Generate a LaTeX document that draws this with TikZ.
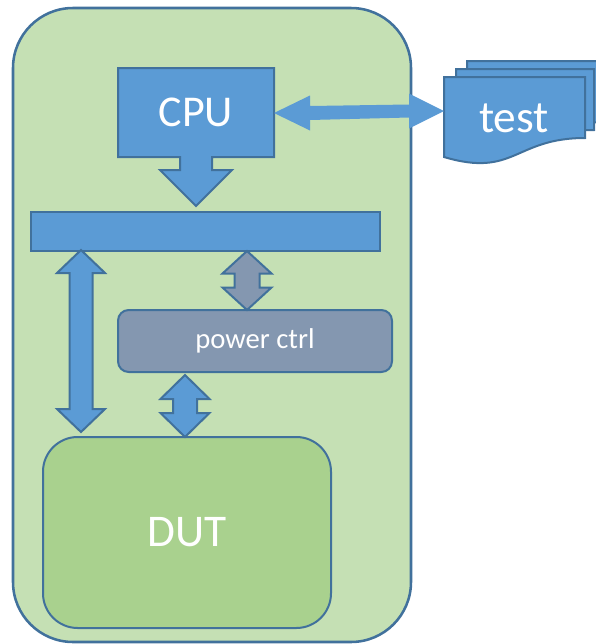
\documentclass[tikz,border=0pt]{standalone}
\usepackage{fontspec}
\setmainfont{Carlito}
\definecolor{blueF}{HTML}{5B9BD5}
\definecolor{blueD}{HTML}{41719C}
\definecolor{boardF}{HTML}{C5E0B4}
\definecolor{dutF}{HTML}{A9D18E}
\definecolor{grayF}{HTML}{8497B0}
\newcommand\dblvarrow[7]{%
  \draw[#1] (#2,#3) -- ({#2+#5},{#3+#7}) -- ({#2+#6},{#3+#7}) -- ({#2+#6},{#4-#7})
    -- ({#2+#5},{#4-#7}) -- (#2,#4) -- ({#2-#5},{#4-#7}) -- ({#2-#6},{#4-#7})
    -- ({#2-#6},{#3+#7}) -- ({#2-#5},{#3+#7}) -- cycle;}
\newcommand\docpage[6]{%
  \draw[docstyle] (#1,#2) -- (#3,#2) -- (#3,#5) .. controls ({(#1+#3)/2},#5) and ({(#1+#3)/2},#6) .. (#1,#4) -- cycle;}
\tikzset{
  boxline/.style={draw=blueD, line width=1.5pt},
  blockarrow/.style={boxline, fill=blueF, line join=miter},
  grayarrow/.style={boxline, fill=grayF, line join=miter},
  docstyle/.style={boxline, fill=blueF},
  whitetext/.style={text=white, inner sep=0pt},
}
\begin{document}
\begin{tikzpicture}[x=0.75pt,y=-0.75pt]
\useasboundingbox (0,0) rectangle (596,644);
\clip (0,0) rectangle (596,644);
% board
\node[boxline, fill=boardF, rounded corners=45pt, minimum width=298.5pt, minimum height=475.5pt, line width=1.9pt] (board) at (212,325) {};
% CPU callout
\draw[blockarrow] (118,68) -- (274,68) -- (274,157) -- (212,157) -- (212,170) -- (232,170) -- (196,206)
  -- (160,170) -- (180,170) -- (180,157) -- (118,157) -- cycle;
\node[whitetext, font=\fontsize{33}{36}\selectfont] (cpu) at (196,112.5) {CPU};
% bus
\node[boxline, fill=blueF, minimum width=261.75pt, minimum height=29.25pt] (bus) at (205.5,231.5) {};
% power ctrl
\node[boxline, fill=grayF, rounded corners=8pt, minimum width=205.5pt, minimum height=46.5pt,
      text=white, font=\fontsize{21.5}{24}\selectfont] (power) at (255,341) {power ctrl};
% DUT
\node[boxline, fill=dutF, rounded corners=26pt, minimum width=216pt, minimum height=143.25pt,
      text=white, font=\fontsize{34}{38}\selectfont] (dut) at (187,532.5) {DUT};
% vertical double arrows
\dblvarrow{blockarrow}{81}{250}{432}{24}{11.5}{23}
\dblvarrow{grayarrow}{247}{251}{310}{24.5}{12.5}{22.5}
\dblvarrow{blockarrow}{185}{375}{437}{24.5}{12}{24}
% test documents
\docpage{467}{61}{606}{141}{122}{162}
\docpage{456}{69}{594}{149}{130}{170}
\docpage{444}{77}{585}{157}{138}{178}
\node[whitetext, font=\fontsize{34}{38}\selectfont] (test) at (514,118) {test};
% CPU <-> test arrow
\fill[blueF] (274,113) -- (310,95.5) -- (310,106) -- (409,104.5) -- (409,93.5) -- (444,111)
  -- (409,128.5) -- (409,117.5) -- (310,120) -- (310,130.5) -- cycle;
\end{tikzpicture}
\end{document}
